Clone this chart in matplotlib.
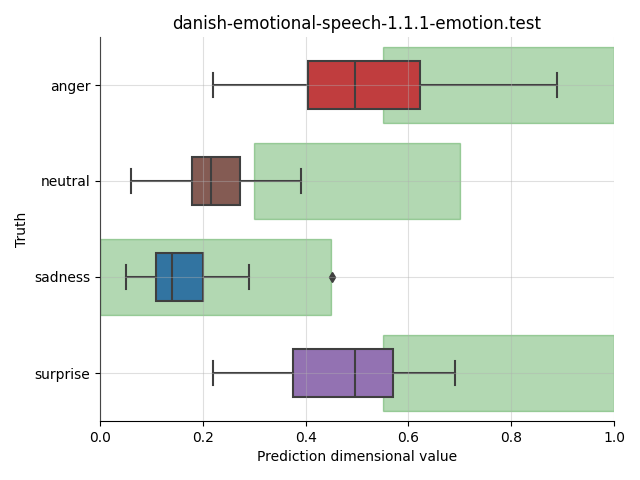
import colorsys

import matplotlib
matplotlib.use('Agg')
import matplotlib.pyplot as plt
from matplotlib.colors import to_rgb
from matplotlib.patches import Rectangle

# categories, top to bottom
emotions = ['anger', 'neutral', 'sadness', 'surprise']
box_colors = ['tab:red', 'tab:brown', 'tab:blue', 'tab:purple']

# box statistics
whisker_low = [0.22, 0.06, 0.05, 0.22]
q1 = [0.405, 0.179, 0.109, 0.375]
medians = [0.496, 0.216, 0.140, 0.496]
q3 = [0.623, 0.272, 0.200, 0.570]
whisker_high = [0.889, 0.391, 0.290, 0.691]
outliers = [[], [], [0.451], []]

# expected ranges per emotion (green bands)
range_low = [0.55, 0.30, 0.0, 0.55]
range_high = [1.0, 0.70, 0.45, 1.0]

LINE_GREY = '#3f3f3f'


def desaturate(color, prop=0.75):
    h, l, s = colorsys.rgb_to_hls(*to_rgb(color))
    return colorsys.hls_to_rgb(h, l, s * prop)


fig = plt.figure(figsize=(6.4, 4.8), dpi=100)
ax = fig.add_axes([100 / 640, 1 - 421 / 480, 514 / 640, 384 / 480])

# green bands first, boxes on top
for i in range(len(emotions)):
    rect = Rectangle((range_low[i], i - 0.4), range_high[i] - range_low[i], 0.8,
                     facecolor='green', edgecolor='green', alpha=0.3, linewidth=1.0, zorder=1)
    ax.add_patch(rect)

stats = []
for i, emo in enumerate(emotions):
    stats.append(dict(label=emo, whislo=whisker_low[i], q1=q1[i], med=medians[i],
                      q3=q3[i], whishi=whisker_high[i], fliers=outliers[i]))

bp = ax.bxp(stats, positions=range(len(emotions)), vert=False, widths=0.5,
            patch_artist=True, showfliers=True,
            boxprops=dict(edgecolor=LINE_GREY, linewidth=1.5),
            medianprops=dict(color=LINE_GREY, linewidth=1.5),
            whiskerprops=dict(color=LINE_GREY, linewidth=1.5),
            capprops=dict(color=LINE_GREY, linewidth=1.5),
            flierprops=dict(marker='d', markerfacecolor=LINE_GREY,
                            markeredgecolor=LINE_GREY, markersize=5),
            manage_ticks=False, zorder=2)
for patch, c in zip(bp['boxes'], box_colors):
    patch.set_facecolor(desaturate(c))

ax.set_yticks(range(len(emotions)))
ax.set_yticklabels(emotions)
ax.set_ylim(3.5, -0.5)
ax.set_xlim(0, 1)

ax.grid(True, color='#b0b0b0', alpha=0.4, linewidth=0.8, zorder=5)
ax.set_axisbelow(False)
ax.spines['top'].set_visible(False)
ax.spines['right'].set_visible(False)

ax.set_title('danish-emotional-speech-1.1.1-emotion.test')
ax.set_xlabel('Prediction dimensional value')
ax.set_ylabel('Truth')

fig.savefig('out.png', dpi=100)
